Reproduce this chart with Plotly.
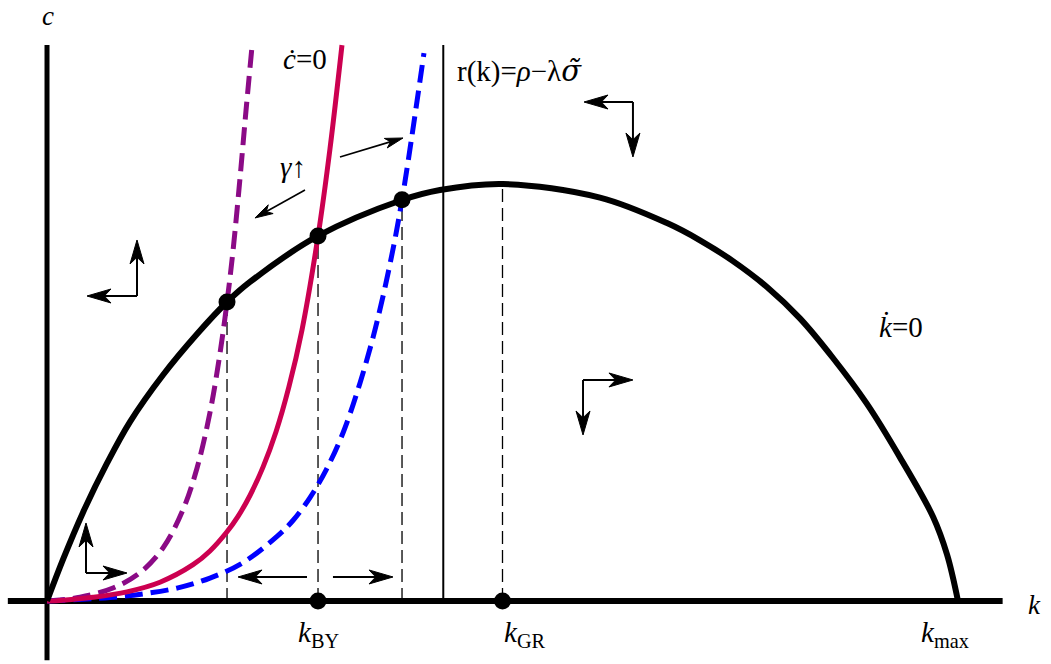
import math
import plotly.graph_objects as go

# ---- data (k, c units) ----
# k-dot = 0 locus
kdot_k = [0, 0.176, 0.395, 0.659, 0.911, 1.273, 1.647, 1.976, 2.228, 2.975, 3.897, 4.314, 5.005,
          6.070, 6.806, 7.168, 7.530, 7.903, 8.265, 8.628, 9.001, 9.363, 9.726, 9.880, 10.0]
kdot_c = [0, 0.998, 2.125, 3.305, 4.297, 5.420, 6.403, 7.170, 7.650, 8.753, 9.616, 9.856, 10.0,
          9.674, 9.062, 8.650, 8.151, 7.530, 6.777, 5.827, 4.727, 3.444, 2.019, 1.110, 0]
# c-dot = 0 loci
red_k = [0, 0.176, 0.505, 0.878, 1.240, 1.603, 1.789, 1.976, 2.097, 2.228, 2.371, 2.514,
         2.656, 2.799, 2.975, 3.106, 3.238]
red_c = [0, 0.02, 0.09, 0.22, 0.45, 0.87, 1.20, 1.66, 2.03, 2.53, 3.21, 4.06,
         5.14, 6.50, 8.75, 10.84, 13.33]
pur_k = [0, 0.362, 0.724, 1.021, 1.273, 1.493, 1.647, 1.789, 1.899, 1.976, 2.042, 2.119, 2.184, 2.250]
pur_c = [0, 0.09, 0.31, 0.68, 1.27, 2.19, 3.19, 4.52, 5.94, 7.17, 8.40, 10.15, 11.75, 13.29]
blu_k = [0, 0.692, 1.054, 1.427, 1.789, 2.151, 2.525, 2.700, 2.887, 3.063, 3.249, 3.436,
         3.600, 3.765, 3.897, 4.138]
blu_c = [0, 0.084, 0.17, 0.31, 0.55, 0.92, 1.55, 1.93, 2.48, 3.14, 4.03, 5.23,
         6.50, 8.08, 9.62, 13.14]
# steady states
ss_k = [1.976, 2.975, 3.897]
ss_c = [7.17, 8.75, 9.62]
k_BY = 2.975
k_GR = 5.0
c_GR = 10.0
r_k = 4.35
top_c = 13.33
# axes extents
x_axis_k = [-0.43, 10.49]
y_axis_c = [-1.42, 13.33]

# arrows: (tail_k, tail_c, tip_k, tip_c)
phase_arrows = [
    (0.988, 7.314, 0.988, 8.657), (0.988, 7.314, 0.439, 7.314),
    (6.432, 11.966, 5.895, 11.966), (6.432, 11.966, 6.432, 10.647),
    (5.884, 5.300, 6.432, 5.300), (5.884, 5.300, 5.884, 3.981),
    (0.428, 0.671, 0.428, 1.871), (0.428, 0.671, 0.878, 0.671),
    (2.854, 0.576, 2.097, 0.576), (3.139, 0.576, 3.798, 0.576),
]
gamma_arrows = [
    (2.832, 9.856, 2.283, 9.185),
    (3.216, 10.647, 3.908, 11.103),
]

FONT = "Liberation Serif"
W, H = 1051, 664
XR = [-0.516, 11.021]
YR = [-1.511, 14.412]
SX = W / (XR[1] - XR[0])   # px per k unit
SY = H / (YR[1] - YR[0])   # px per c unit

fig = go.Figure()

# axes lines
fig.add_trace(go.Scatter(x=x_axis_k, y=[0, 0], mode="lines",
                         line=dict(color="black", width=6), hoverinfo="skip"))
fig.add_trace(go.Scatter(x=[0, 0], y=y_axis_c, mode="lines",
                         line=dict(color="black", width=5), hoverinfo="skip"))

# dashed verticals
for kk, cc in list(zip(ss_k, ss_c)) + [(k_GR, c_GR)]:
    fig.add_trace(go.Scatter(x=[kk, kk], y=[0, cc], mode="lines",
                             line=dict(color="black", width=1.3, dash="13px,6px"),
                             hoverinfo="skip"))
# r(k) line
fig.add_trace(go.Scatter(x=[r_k, r_k], y=[0, top_c], mode="lines",
                         line=dict(color="black", width=2), hoverinfo="skip"))

# c-dot = 0 curves
fig.add_trace(go.Scatter(x=pur_k, y=pur_c, mode="lines",
                         line=dict(color="#8b0a86", width=5, dash="18px,8px", shape="spline"),
                         hoverinfo="skip"))
fig.add_trace(go.Scatter(x=blu_k, y=blu_c, mode="lines",
                         line=dict(color="#0000ff", width=5, dash="18px,8px", shape="spline"),
                         hoverinfo="skip"))
fig.add_trace(go.Scatter(x=red_k, y=red_c, mode="lines",
                         line=dict(color="#cc0050", width=5, shape="spline"),
                         hoverinfo="skip"))
# k-dot = 0 curve
fig.add_trace(go.Scatter(x=kdot_k, y=kdot_c, mode="lines",
                         line=dict(color="black", width=6, shape="spline"),
                         hoverinfo="skip"))

# dots
fig.add_trace(go.Scatter(x=ss_k + [k_BY, k_GR], y=ss_c + [0, 0], mode="markers",
                         marker=dict(color="black", size=17), hoverinfo="skip"))


def add_arrow(tail_k, tail_c, tip_k, tip_c, lw, head_len, head_w):
    # work in pixel space so the head keeps its shape
    dx = (tip_k - tail_k) * SX
    dy = (tip_c - tail_c) * SY
    d = math.hypot(dx, dy)
    ux, uy = dx / d, dy / d
    px, py = -uy, ux

    def to_data(ox, oy):
        return tip_k + ox / SX, tip_c + oy / SY

    bx, by = to_data(-ux * head_len * 0.7, -uy * head_len * 0.7)
    fig.add_trace(go.Scatter(x=[tail_k, bx], y=[tail_c, by], mode="lines",
                             line=dict(color="black", width=lw), hoverinfo="skip"))
    pts = [
        (0, 0),
        (-ux * head_len + px * head_w / 2, -uy * head_len + py * head_w / 2),
        (-ux * head_len * 0.72, -uy * head_len * 0.72),
        (-ux * head_len - px * head_w / 2, -uy * head_len - py * head_w / 2),
        (0, 0),
    ]
    hx, hy = zip(*[to_data(a, b) for a, b in pts])
    fig.add_trace(go.Scatter(x=list(hx), y=list(hy), mode="lines", fill="toself",
                             fillcolor="black", line=dict(color="black", width=1),
                             hoverinfo="skip"))


for a in phase_arrows:
    add_arrow(*a, lw=2, head_len=24, head_w=14)
for a in gamma_arrows:
    add_arrow(*a, lw=1.6, head_len=18, head_w=10)

annotations = []
labels = [
    (0.011, 14.03, "<i>c</i>", 27),
    (10.845, -0.096, "<i>k</i>", 27),
    (2.832, 13.0, "<i>ċ</i>=0", 29),
    (5.192, 12.72, "r(k)=<i>ρ</i>−λ<span style=\"font-family:DejaVu Serif\"><i>σ̃</i></span>", 29),
    (2.700, 10.40, "<i>γ</i>↑", 29),
    (9.374, 6.56, "<i>k̇</i>=0", 29),
    (2.975, -0.78, "<i>k</i><sub>BY</sub>", 29),
    (5.247, -0.78, "<i>k</i><sub>GR</sub>", 29),
    (9.857, -0.78, "<i>k</i><sub>max</sub>", 29),
]
for xk, yc, t, s in labels:
    annotations.append(dict(x=xk, y=yc, xref="x", yref="y", text=t, showarrow=False,
                            font=dict(family=FONT, size=s, color="black")))

fig.update_layout(
    width=W, height=H,
    margin=dict(l=0, r=0, t=0, b=0),
    paper_bgcolor="white", plot_bgcolor="white",
    showlegend=False,
    xaxis=dict(range=XR, visible=False, fixedrange=True),
    yaxis=dict(range=YR, visible=False, fixedrange=True),
    annotations=annotations,
)

fig.write_html("out.html", config={"displayModeBar": False},
               post_script="document.body.style.margin='0';document.body.style.overflow='hidden';")
